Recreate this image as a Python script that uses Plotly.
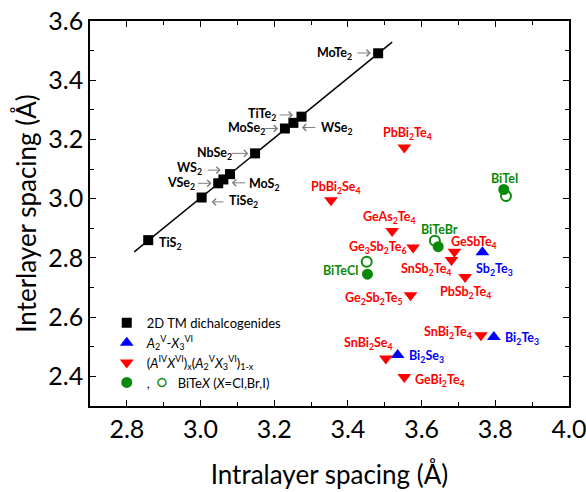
import re
import numpy as np
import plotly.graph_objects as go

FONT = "Lato"

# ---- data ----
tm_names = ["TiS2", "TiSe2", "VSe2", "MoS2", "WS2", "NbSe2", "MoSe2", "WSe2", "TiTe2", "MoTe2"]
tm_intra = [2.858, 3.003, 3.048, 3.062, 3.080, 3.148, 3.229, 3.252, 3.274, 3.482]
tm_inter = [2.860, 3.004, 3.052, 3.065, 3.083, 3.153, 3.237, 3.256, 3.277, 3.491]

av_names = ["Sb2Te3", "Bi2Te3", "Bi2Se3"]
av_intra = [3.765, 3.796, 3.535]
av_inter = [2.819, 2.533, 2.472]

mix_names = ["PbBi2Te4", "PbBi2Se4", "GeAs2Te4", "Ge3Sb2Te6", "GeSbTe4", "SnSb2Te4",
             "PbSb2Te4", "Ge2Sb2Te5", "SnBi2Te4", "SnBi2Se4", "GeBi2Te4"]
mix_intra = [3.553, 3.354, 3.520, 3.577, 3.689, 3.681, 3.718, 3.570, 3.761, 3.503, 3.553]
mix_inter = [3.173, 2.995, 2.891, 2.835, 2.821, 2.793, 2.736, 2.674, 2.539, 2.460, 2.398]

bx_names = ["BiTeI", "BiTeBr", "BiTeCl"]
bx_intra_filled = [3.823, 3.645, 3.453]
bx_inter_filled = [3.031, 2.838, 2.745]
bx_intra_open = [3.829, 3.636, 3.451]
bx_inter_open = [3.009, 2.858, 2.787]

fit_range = [2.82, 3.52]

GREEN = "#0a8a0a"
RED = "#ff0000"
BLUE = "#0000ff"

legend_names = [
    "2D TM dichalcogenides",
    "<i>A</i><sub>2</sub><sup>V</sup>-<i>X</i><sub>3</sub><sup>VI</sup>",
    "(<i>A</i><sup>IV</sup><i>X</i><sup>VI</sup>)<sub>x</sub>(<i>A</i><sub>2</sub><sup>V</sup><i>X</i><sub>3</sub><sup>VI</sup>)<sub>1-x</sub>",
    ",  <span style='color:" + GREEN + ";font-size:17px'>○</span>   BiTe<i>X</i> (<i>X</i>=Cl,Br,I)",
]

# ---- label placement (pixel offsets: dx right, dy up, anchor) ----
tm_lab = [(8.4, -3.3, 'left'), (25, -4.4, 'left'), (-21.6, 0, 'right'), (24, -4.7, 'left'),
          (-26, 5.7, 'right'), (-21, 0, 'right'), (-18, 0, 'right'), (26, -5.6, 'left'),
          (-24, 2.4, 'right'), (-24, 0, 'right')]
# arrows: (head dx, head dy_down, tail offset from head in x)
tm_arrows = [None, (10, 4.4, 13.3), (-6.6, 0, -15), (8.4, 3.4, 15), (-9.3, -4, -14.7),
             (-6.7, 0, -18), (-6.7, 0, -15.6), (8.4, 4.6, 15), (-8.4, -1.7, -15), (-7.3, -0.3, -15)]
mix_lab = [(3.4, 14, 'center'), (4.7, 12.7, 'center'), (-2.3, 13.3, 'center'), (-5, 0, 'right'),
           (19.6, 9.7, 'center'), (-25, -9.3, 'center'), (0.7, -16, 'center'), (-6.7, -3.3, 'right'),
           (-7, 2.3, 'right'), (-17.7, 15.6, 'center'), (9, -4, 'left')]
av_lab = [(11.7, -17, 'center'), (8.7, -1.6, 'left'), (9, -1.7, 'left')]
bx_lab = [(1, 11, 'center'), (1.7, 16.7, 'center'), (-7.3, 4, 'right')]


def sub(s):
    return re.sub(r"(\d)", r"<sub>\1</sub>", s)


fig = go.Figure()

# fit line through TM dichalcogenides
a, b = np.polyfit(tm_intra, tm_inter, 1)
fx = np.array(fit_range)
fig.add_trace(go.Scatter(x=fx, y=a * fx + b, mode="lines", line=dict(color="black", width=1.5),
                         showlegend=False, hoverinfo="skip"))

fig.add_trace(go.Scatter(x=tm_intra, y=tm_inter, mode="markers", name=legend_names[0],
                         marker=dict(symbol="square", size=10, color="black")))
fig.add_trace(go.Scatter(x=av_intra, y=av_inter, mode="markers", name=legend_names[1],
                         marker=dict(symbol="triangle-up", size=12, color=BLUE)))
fig.add_trace(go.Scatter(x=mix_intra, y=mix_inter, mode="markers", name=legend_names[2],
                         marker=dict(symbol="triangle-down", size=12, color=RED)))
fig.add_trace(go.Scatter(x=bx_intra_open, y=bx_inter_open, mode="markers", showlegend=False,
                         marker=dict(symbol="circle-open", size=10, color=GREEN, line=dict(width=2))))
fig.add_trace(go.Scatter(x=bx_intra_filled, y=bx_inter_filled, mode="markers", name=legend_names[3],
                         marker=dict(symbol="circle", size=11, color=GREEN)))

ann = []


def add_labels(names, xs, ys, labs, color):
    for n, x, y, (dx, dy, anc) in zip(names, xs, ys, labs):
        ann.append(dict(x=x, y=y, xref="x", yref="y", text="<b>" + sub(n) + "</b>", showarrow=False,
                        xanchor=anc, yanchor="middle", xshift=dx, yshift=dy,
                        font=dict(family=FONT, size=12.5, color=color)))


add_labels(tm_names, tm_intra, tm_inter, tm_lab, "black")
add_labels(mix_names, mix_intra, mix_inter, mix_lab, RED)
add_labels(av_names, av_intra, av_inter, av_lab, BLUE)
add_labels(bx_names, bx_intra_filled, bx_inter_filled, bx_lab, GREEN)

for x, y, arr in zip(tm_intra, tm_inter, tm_arrows):
    if arr is None:
        continue
    hx, hy, tx = arr
    ann.append(dict(x=x, y=y, xref="x", yref="y", text="", showarrow=True,
                    xshift=hx, yshift=-hy, ax=tx, ay=0, standoff=0,
                    arrowhead=4, arrowsize=1.3, arrowwidth=1, arrowcolor="#7f7f7f"))

axis_common = dict(showline=True, linecolor="black", linewidth=1.5, mirror="allticks",
                   ticks="inside", ticklen=6, tickwidth=1.2, tickcolor="black",
                   showgrid=False, zeroline=False, tickformat=".1f", ticklabeloverflow="allow",
                   tickfont=dict(family=FONT, size=25, color="black"),
                   minor=dict(ticks="inside", ticklen=4, tickwidth=1.2, tickcolor="black", dtick=0.1))

fig.update_xaxes(range=[2.7, 4.0], tick0=2.8, dtick=0.2,
                 title=dict(text="Intralayer spacing (Å)", standoff=24,
                            font=dict(family=FONT, size=26, color="black")),
                 **axis_common)
fig.update_yaxes(range=[2.3, 3.6], tick0=2.4, dtick=0.2,
                 title=dict(text="Interlayer spacing (Å)", standoff=4,
                            font=dict(family=FONT, size=26, color="black")),
                 **axis_common)

fig.update_layout(width=586, height=492, margin=dict(l=90, r=17, t=21, b=86, autoexpand=False),
                  plot_bgcolor="white", paper_bgcolor="white", annotations=ann,
                  legend=dict(x=0.035, y=0.255, xanchor="left", yanchor="top", bgcolor="rgba(0,0,0,0)",
                              font=dict(family=FONT, size=13, color="black"), tracegroupgap=0),
                  font=dict(family=FONT))

fig.write_html("out.html")
